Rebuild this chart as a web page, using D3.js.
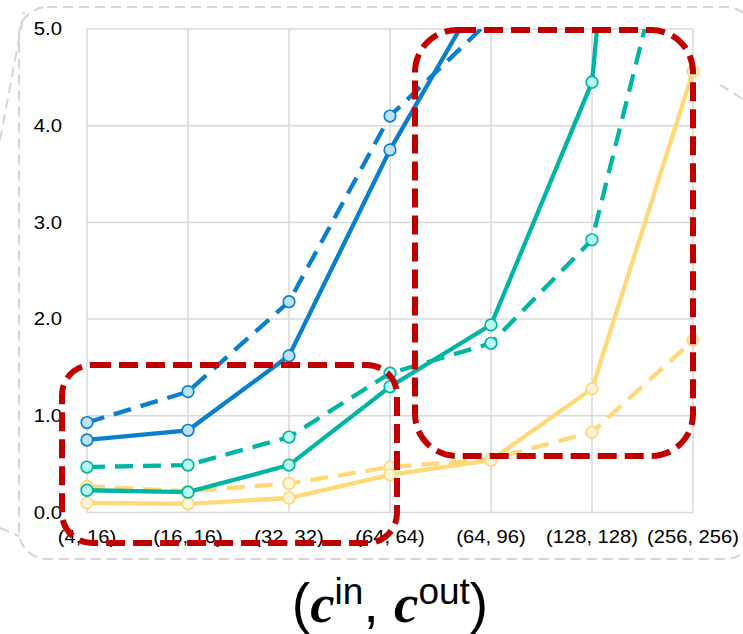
<!DOCTYPE html>
<html>
<head>
<meta charset="utf-8">
<script src="https://cdn.jsdelivr.net/npm/d3@7"></script>
<style>
  html, body { margin: 0; padding: 0; background: #ffffff; }
  svg { display: block; }
</style>
</head>
<body>
<svg id="chart" width="743" height="634"></svg>
<script>
// ---- data ----
const categories = ["(4, 16)", "(16, 16)", "(32, 32)", "(64, 64)", "(64, 96)", "(128, 128)", "(256, 256)"];
const yTicks = [0, 1, 2, 3, 4, 5];
const blueSolid    = [0.75, 0.85, 1.62, 3.75, 5.56, null, null];
const blueDashed   = [0.93, 1.25, 2.18, 4.10, 5.10, null, null];
const tealSolid    = [0.23, 0.21, 0.49, 1.30, 1.94, 4.45, 15.5];
const tealDashed   = [0.47, 0.49, 0.78, 1.44, 1.75, 2.82, 7.0];
const yellowSolid  = [0.10, 0.09, 0.15, 0.39, 0.54, 1.28, 4.56];
const yellowDashed = [0.27, 0.22, 0.30, 0.47, 0.55, 0.83, 1.78];

const series = [
  { values: yellowDashed, color: "#FFD978", fill: "#FFF4DA", dashed: true },
  { values: yellowSolid,  color: "#FFD978", fill: "#FFF4DA", dashed: false },
  { values: tealDashed,   color: "#00B5A3", fill: "#B8FCEF", dashed: true },
  { values: tealSolid,    color: "#00B5A3", fill: "#B8FCEF", dashed: false },
  { values: blueDashed,   color: "#0A7FCB", fill: "#BDE2F8", dashed: true },
  { values: blueSolid,    color: "#0A7FCB", fill: "#BDE2F8", dashed: false }
];

// ---- layout ----
const svg = d3.select("#chart");
const pLeft = 87, pRight = 693, pTop = 29, pBottom = 512.5;
const x = d3.scalePoint().domain(categories).range([pLeft, pRight]);
const y = d3.scaleLinear().domain([0, 5]).range([pBottom, pTop]);

// grey dashed frame + callout lines
const frame = svg.append("g").attr("fill", "none").attr("stroke", "#d4d4d4")
  .attr("stroke-width", 2).attr("stroke-dasharray", "10,6");
frame.append("rect").attr("x", 19).attr("y", 7).attr("width", 735).attr("height", 552).attr("rx", 28);
frame.append("line").attr("x1", 0).attr("y1", 140).attr("x2", 24).attr("y2", 12);
frame.append("line").attr("x1", 0).attr("y1", 528).attr("x2", 19).attr("y2", 536);
frame.append("line").attr("x1", 720).attr("y1", 85).attr("x2", 743).attr("y2", 99);

// grid
const grid = svg.append("g").attr("stroke", "#d9d9d9").attr("stroke-width", 1.5);
grid.selectAll("line.h").data(yTicks).join("line").attr("class", "h")
  .attr("x1", pLeft).attr("x2", pRight).attr("y1", d => y(d)).attr("y2", d => y(d));
grid.selectAll("line.v").data(categories).join("line").attr("class", "v")
  .attr("x1", d => x(d)).attr("x2", d => x(d)).attr("y1", pTop).attr("y2", pBottom);

// y axis labels
const yAxis = d3.axisLeft(y).tickValues(yTicks).tickFormat(d3.format(".1f")).tickSize(0).tickPadding(0);
const yg = svg.append("g").attr("transform", "translate(62,0)").call(yAxis);
yg.select(".domain").remove();
yg.selectAll(".tick").attr("transform", null);
yg.selectAll("text")
  .attr("font-family", "'Liberation Sans', Arial, sans-serif")
  .attr("font-size", 17.5).attr("fill", "#000").attr("dy", "0.36em")
  .attr("x", 0).attr("y", 0)
  .attr("transform", d => `translate(0,${y(d)}) scale(1.16,1)`);

// x axis labels
const xAxis = d3.axisBottom(x).tickSize(0).tickPadding(0);
const xg = svg.append("g").attr("transform", "translate(0,543)").call(xAxis);
xg.select(".domain").remove();
xg.selectAll(".tick").attr("transform", null);
xg.selectAll("text")
  .attr("font-family", "'Liberation Sans', Arial, sans-serif")
  .attr("font-size", 18).attr("fill", "#000").attr("y", 0).attr("dy", 0).attr("x", 0)
  .attr("transform", d => `translate(${x(d)},0) scale(1.12,1)`);

// clip
svg.append("defs").append("clipPath").attr("id", "plotclip")
  .append("rect").attr("x", 0).attr("y", pTop).attr("width", 743).attr("height", pBottom - pTop + 20);

const line = d3.line()
  .defined(d => d.v !== null)
  .x(d => x(d.c)).y(d => y(d.v));

const plot = svg.append("g").attr("clip-path", "url(#plotclip)");
series.forEach(s => {
  const pts = categories.map((c, i) => ({ c, v: s.values[i] }));
  plot.append("path").datum(pts)
    .attr("d", line).attr("fill", "none")
    .attr("stroke", s.color).attr("stroke-width", 4.3)
    .attr("stroke-dasharray", s.dashed ? "18,10" : null);
  plot.selectAll(null).data(pts.filter(p => p.v !== null && p.v <= 5.05)).join("circle")
    .attr("cx", d => x(d.c)).attr("cy", d => y(d.v)).attr("r", 5.8)
    .attr("fill", s.fill).attr("stroke", s.color).attr("stroke-width", 1.7);
});

// red dashed highlight boxes
const red = svg.append("g").attr("fill", "none").attr("stroke", "#C00000")
  .attr("stroke-width", 6).attr("stroke-dasharray", "19,8");
red.append("rect").attr("x", 62).attr("y", 365).attr("width", 335).attr("height", 178).attr("rx", 30);
red.append("rect").attr("x", 415).attr("y", 30).attr("width", 278).attr("height", 426).attr("rx", 42);

// axis title
const title = svg.append("text")
  .attr("x", 390).attr("y", 622).attr("text-anchor", "middle")
  .attr("font-family", "'Liberation Sans', Arial, sans-serif")
  .attr("font-size", 55).attr("fill", "#000");
title.append("tspan").text("(");
title.append("tspan").attr("font-family", "'Liberation Serif', 'Times New Roman', serif")
  .attr("font-weight", "bold").attr("font-style", "italic").text("c");
title.append("tspan").attr("font-size", 37).attr("dy", -18).text("in");
title.append("tspan").attr("dy", 18).text(", ");
title.append("tspan").attr("font-family", "'Liberation Serif', 'Times New Roman', serif")
  .attr("font-weight", "bold").attr("font-style", "italic").text("c");
title.append("tspan").attr("font-size", 37).attr("dy", -18).text("out");
title.append("tspan").attr("dy", 18).text(")");
</script>
</body>
</html>
